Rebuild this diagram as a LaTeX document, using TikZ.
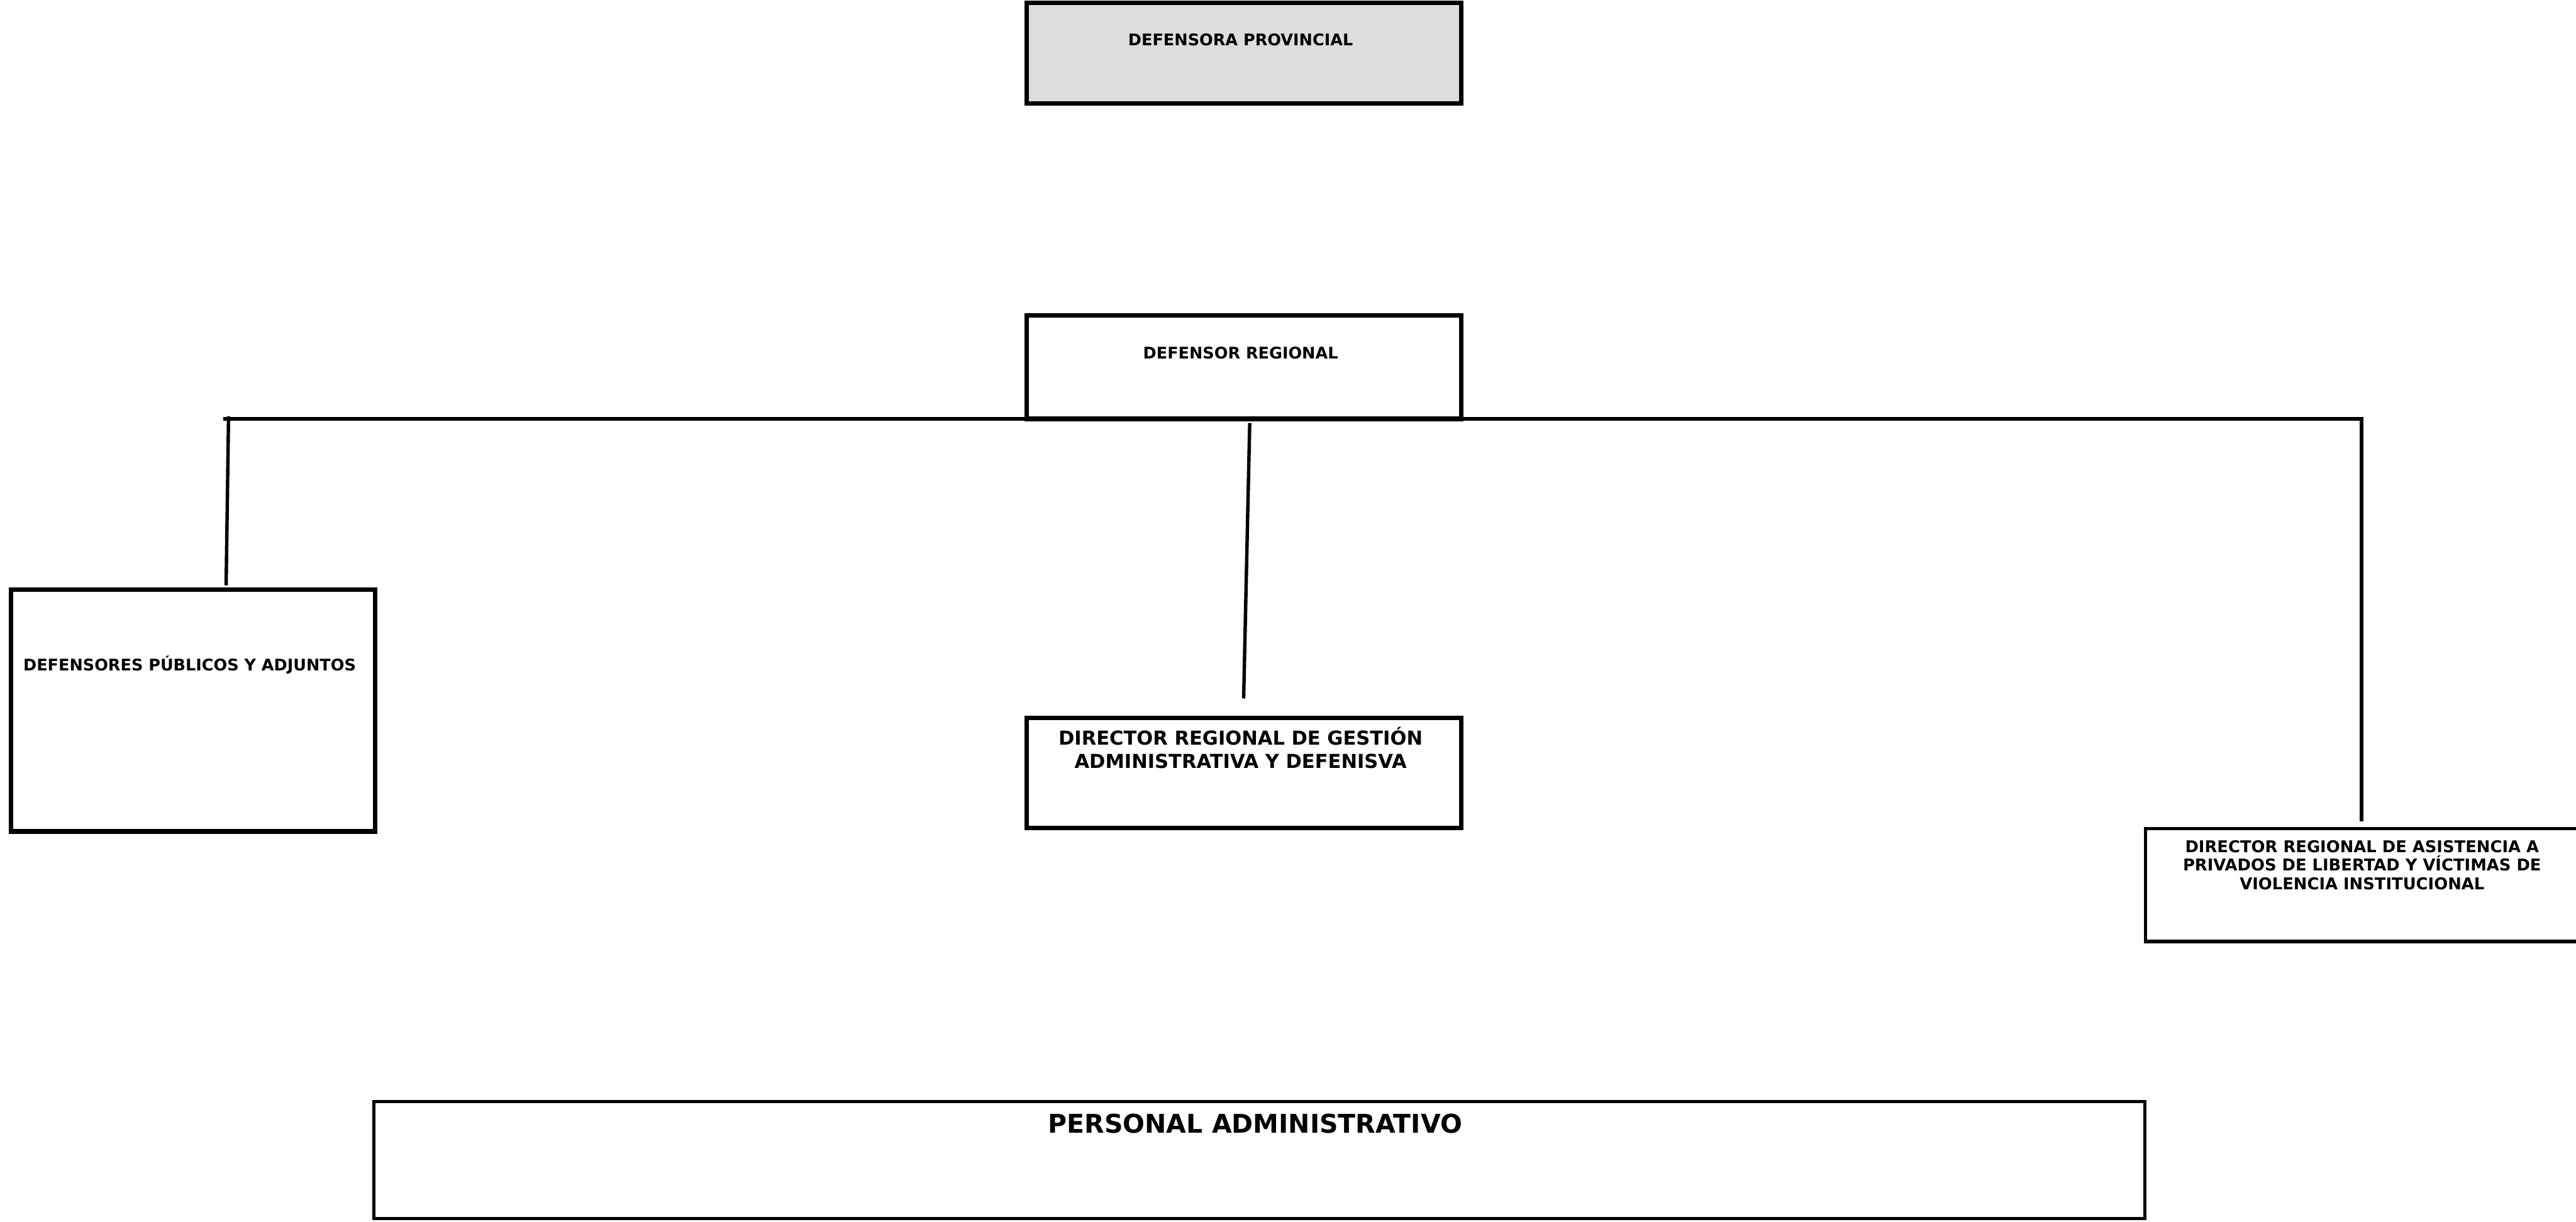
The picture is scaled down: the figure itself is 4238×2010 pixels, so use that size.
\documentclass[tikz,border=0pt]{standalone}
\usepackage{fontspec}
\setmainfont{DejaVu Sans}
\begin{document}
\begin{tikzpicture}[x=0.25pt,y=-0.25pt,
  box/.style={draw=black,rectangle,inner sep=0pt,outer sep=0pt,line width=1.9pt},
  thinbox/.style={draw=black,rectangle,inner sep=0pt,outer sep=0pt,line width=1.35pt},
  txt/.style={inner sep=0pt,outer sep=0pt,align=center,font=\bfseries},
  conn/.style={line width=1.4pt,draw=black}]
\useasboundingbox[fill=white] (0,0) rectangle (4238,2010);
% boxes
\node[box,fill={rgb,255:red,221;green,221;blue,221},minimum width=715*0.25pt,minimum height=165*0.25pt] (dp) at (2046.5,87.5) {};
\node[box,minimum width=715*0.25pt,minimum height=170*0.25pt] (dr) at (2046.5,604) {};
\node[box,minimum width=599*0.25pt,minimum height=398*0.25pt] (dpa) at (317.5,1169) {};
\node[box,minimum width=715*0.25pt,minimum height=181*0.25pt] (drg) at (2046.5,1271.5) {};
\node[thinbox,minimum width=730*0.25pt,minimum height=186*0.25pt] (dra) at (3894.5,1456) {};
\node[thinbox,minimum width=2914*0.25pt,minimum height=193*0.25pt] (pa) at (2072,1908.5) {};
% texts (anchor=base is the baseline of the last line)
\node[txt,anchor=base,font=\bfseries\fontsize{6.6pt}{7.8pt}\selectfont] (dpt) at (2041,75) {DEFENSORA PROVINCIAL};
\node[txt,anchor=base,font=\bfseries\fontsize{6.6pt}{7.8pt}\selectfont] (drt) at (2041,590) {DEFENSOR REGIONAL};
\node[txt,anchor=base,font=\bfseries\fontsize{6.6pt}{7.8pt}\selectfont] (dpat) at (312,1103) {DEFENSORES PÚBLICOS Y ADJUNTOS};
\node[txt,anchor=base,font=\bfseries\fontsize{7.9pt}{9.5pt}\selectfont] (drgt) at (2041,1264) {DIRECTOR REGIONAL DE GESTIÓN\\ADMINISTRATIVA Y DEFENISVA};
\node[txt,anchor=base,font=\bfseries\fontsize{6.68pt}{7.75pt}\selectfont] (drat) at (3886,1464) {DIRECTOR REGIONAL DE ASISTENCIA A\\PRIVADOS DE LIBERTAD Y VÍCTIMAS DE\\VIOLENCIA INSTITUCIONAL};
\node[txt,anchor=base,font=\bfseries\fontsize{10.6pt}{12.5pt}\selectfont] (pat) at (2065,1864) {PERSONAL ADMINISTRATIVO};
% connectors
\coordinate (busL) at (367,689);
\coordinate (busR) at (3885,689);
\coordinate (lTop) at (376,685);
\coordinate (lEnd) at (372,963);
\coordinate (mTop) at (2056,696);
\coordinate (mEnd) at (2046,1149);
\coordinate (rEnd) at (3885,1351);
\draw[conn] (busL) -- (busR) -- (rEnd);
\draw[conn] (lTop) -- (lEnd);
\draw[conn] (mTop) -- (mEnd);
\end{tikzpicture}
\end{document}
